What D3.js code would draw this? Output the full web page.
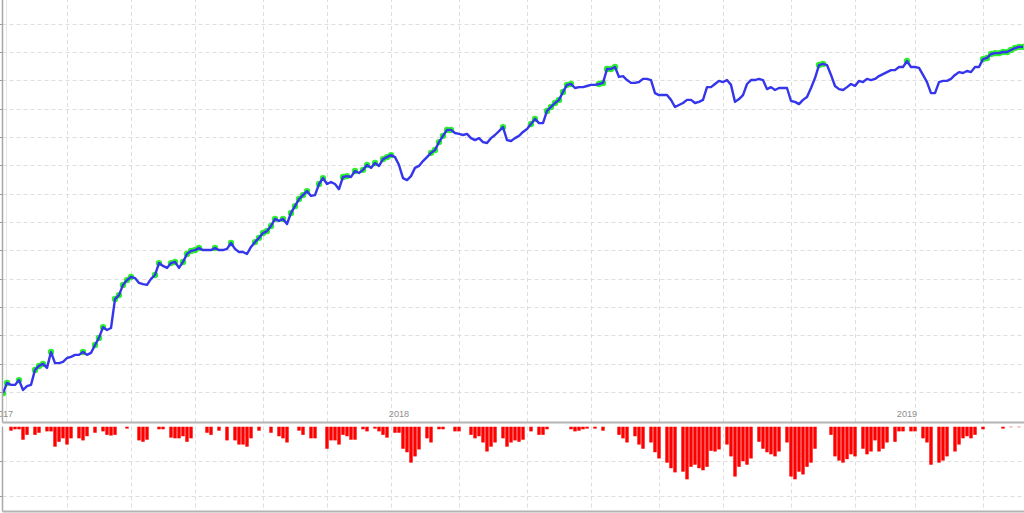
<!DOCTYPE html>
<html>
<head>
<meta charset="utf-8">
<script src="https://cdn.jsdelivr.net/npm/d3@7"></script>
<style>
  html, body { margin: 0; padding: 0; background: #fff; }
  svg { display: block; }
</style>
</head>
<body>
<svg id="chart" width="1024" height="513"></svg>
<script>
// ---- data ----
const equity = [
0.996,1.032,1.025,1.025,1.042,1.007,1.021,1.025,1.078,1.092,
1.099,1.085,1.141,1.102,1.102,1.106,1.120,1.124,1.131,1.131,
1.141,1.131,1.138,1.166,1.191,1.229,1.219,1.226,1.328,1.342,
1.378,1.395,1.406,1.402,1.385,1.381,1.378,1.399,1.413,1.455,
1.445,1.438,1.455,1.459,1.438,1.459,1.487,1.498,1.501,1.508,
1.501,1.501,1.501,1.508,1.501,1.501,1.505,1.526,1.505,1.494,
1.494,1.487,1.512,1.529,1.544,1.561,1.568,1.586,1.611,1.604,
1.611,1.593,1.632,1.656,1.681,1.695,1.709,1.692,1.695,1.734,
1.755,1.734,1.741,1.734,1.716,1.759,1.762,1.759,1.780,1.773,
1.784,1.801,1.791,1.808,1.798,1.822,1.829,1.836,1.829,1.801,
1.755,1.748,1.762,1.791,1.798,1.815,1.829,1.844,1.854,1.882,
1.904,1.925,1.925,1.914,1.911,1.907,1.911,1.896,1.889,1.896,
1.882,1.879,1.896,1.907,1.921,1.935,1.889,1.886,1.896,1.904,
1.918,1.928,1.946,1.964,1.949,1.949,1.992,2.006,2.020,2.031,
2.059,2.084,2.087,2.073,2.076,2.076,2.080,2.084,2.084,2.087,
2.091,2.140,2.140,2.147,2.112,2.115,2.101,2.091,2.091,2.094,
2.105,2.105,2.101,2.055,2.048,2.048,2.048,2.031,2.006,2.013,
2.020,2.031,2.031,2.020,2.024,2.031,2.076,2.076,2.087,2.098,
2.094,2.101,2.084,2.024,2.034,2.048,2.087,2.101,2.101,2.105,
2.101,2.069,2.076,2.066,2.073,2.073,2.073,2.027,2.024,2.016,
2.031,2.041,2.073,2.108,2.154,2.158,2.154,2.119,2.080,2.069,
2.066,2.076,2.087,2.080,2.098,2.094,2.105,2.101,2.105,2.115,
2.122,2.129,2.136,2.136,2.147,2.147,2.168,2.147,2.147,2.144,
2.119,2.094,2.055,2.055,2.094,2.098,2.098,2.105,2.119,2.129,
2.126,2.133,2.129,2.147,2.147,2.175,2.179,2.193,2.196,2.196,
2.200,2.200,2.207,2.214,2.218,2.218
];

const drawdown = [
0,0,-0.006,-0.004,-0.004,-0.019,-0.012,0,-0.012,-0.009,
0,-0.007,-0.007,-0.029,-0.022,-0.017,-0.026,-0.017,0,-0.017,
-0.020,-0.014,0,-0.009,0,-0.007,-0.012,-0.013,-0.012,0,
0,-0.003,0,0,-0.020,-0.022,-0.019,0,0,-0.004,
-0.004,0,-0.016,-0.017,-0.017,-0.014,-0.022,-0.017,0,0,
0,-0.009,-0.012,0,-0.006,0,-0.020,0,-0.020,-0.026,
-0.026,-0.029,-0.017,0,-0.006,0,0,-0.009,0,-0.014,
-0.017,-0.023,0,0,-0.006,-0.012,0,-0.017,-0.017,0,
0,-0.032,-0.020,-0.020,-0.026,-0.012,-0.014,-0.019,-0.019,0,
-0.004,-0.007,0,-0.003,-0.007,-0.012,-0.016,0,-0.009,-0.009,
-0.032,-0.037,-0.052,-0.043,-0.033,0,-0.017,-0.023,0,-0.004,
-0.004,0,0,-0.007,-0.007,0,0,-0.012,-0.017,-0.014,
-0.023,-0.036,-0.029,-0.023,0,-0.017,-0.029,-0.023,-0.020,-0.022,
-0.019,0,-0.007,0,-0.012,-0.012,-0.004,0,0,0,
0,0,-0.004,-0.007,-0.006,-0.004,-0.003,0,-0.003,0,
-0.006,0,0,0,-0.012,-0.017,-0.023,0,-0.014,-0.026,
-0.032,0,-0.023,-0.037,-0.046,0,-0.052,-0.060,-0.066,0,
-0.065,-0.076,-0.058,-0.055,-0.060,-0.063,-0.058,-0.035,-0.036,-0.033,
0,-0.026,-0.043,-0.072,-0.058,-0.050,-0.055,-0.046,0,-0.022,
-0.032,-0.037,-0.040,-0.043,-0.036,0,-0.023,-0.072,-0.076,-0.065,
-0.069,-0.058,-0.052,-0.032,0,0,0,-0.012,-0.043,-0.049,
-0.052,-0.047,-0.040,-0.043,0,-0.032,-0.040,-0.036,-0.020,-0.036,
-0.032,-0.023,0,-0.022,-0.007,-0.007,0,-0.007,-0.007,0,
-0.017,-0.023,-0.055,0,-0.052,-0.049,-0.043,0,-0.036,-0.026,
-0.017,-0.014,-0.017,-0.012,0,-0.004,0,0,0,0,
-0.003,0,-0.001,0,-0.001,0
];

const yearLabels = ["2017", "2018", "2019"];
const yearIndex  = [0, 99, 226];
const gridIndex  = [16, 32, 48, 65, 81, 97, 114, 131, 147, 164, 180, 197, 213, 228, 245];
const equityTicks = [1.0,1.1,1.2,1.3,1.4,1.5,1.6,1.7,1.8,1.9,2.0,2.1,2.2,2.3];
const drawdownTicks = [-0.05, -0.10];

// ---- layout ----
const left = 2.5, right = 1026;
const topPanel = { y0: -2, y1: 422.5 };
const botPanel = { y0: 426.5, y1: 511.5 };

const svg = d3.select("#chart");

const x = d3.scaleLinear().domain([0, equity.length - 1]).range([3, 1023]);
const yTop = d3.scaleLinear().domain([1.0, 2.3]).range([392, 23.67]);
const yBot = d3.scaleLinear().domain([-0.1223, 0]).range([botPanel.y1, botPanel.y0]);

const gridColor = "#dedede";
const dash = "4,3";

const defs = svg.append("defs");
defs.append("clipPath").attr("id", "clipTop").append("rect")
  .attr("x", left).attr("y", topPanel.y0).attr("width", right - left).attr("height", topPanel.y1 - topPanel.y0);
defs.append("clipPath").attr("id", "clipBot").append("rect")
  .attr("x", left).attr("y", botPanel.y0).attr("width", right - left).attr("height", botPanel.y1 - botPanel.y0);

// ---- top panel grid ----
const gTop = svg.append("g");
gTop.selectAll("line.hg").data(equityTicks).enter().append("line")
  .attr("x1", left).attr("x2", right)
  .attr("y1", d => Math.round(yTop(d)) + 0.5).attr("y2", d => Math.round(yTop(d)) + 0.5)
  .attr("stroke", gridColor).attr("stroke-dasharray", dash);
gTop.selectAll("line.vg").data(gridIndex).enter().append("line")
  .attr("x1", d => Math.round(x(d)) + 0.5).attr("x2", d => Math.round(x(d)) + 0.5)
  .attr("y1", topPanel.y0).attr("y2", topPanel.y1)
  .attr("stroke", gridColor).attr("stroke-dasharray", dash);
gTop.append("line").attr("x1", 6.5).attr("x2", 6.5).attr("y1", topPanel.y0).attr("y2", topPanel.y1)
  .attr("stroke", "#e6e6e6");
gTop.selectAll("line.tk").data(equityTicks).enter().append("line")
  .attr("x1", -3).attr("x2", left)
  .attr("y1", d => Math.round(yTop(d)) + 0.5).attr("y2", d => Math.round(yTop(d)) + 0.5)
  .attr("stroke", "#999");

// year labels
gTop.selectAll("text.yr").data(yearLabels).enter().append("text")
  .attr("x", (d, i) => x(yearIndex[i]))
  .attr("y", 416.5)
  .attr("text-anchor", "middle")
  .attr("font-family", "Liberation Sans, Arial, sans-serif")
  .attr("font-size", "9.2px")
  .attr("fill", "#8e8e8e")
  .text(d => d);

// ---- equity line + new-high markers ----
const plotTop = svg.append("g").attr("clip-path", "url(#clipTop)");
let runMax = -Infinity;
const highs = [];
equity.forEach((v, i) => { if (v >= runMax) { runMax = v; highs.push(i); } });

plotTop.selectAll("circle").data(highs).enter().append("circle")
  .attr("cx", i => x(i)).attr("cy", i => yTop(equity[i]))
  .attr("r", 3.2).attr("fill", "#2ef02e");

const line = d3.line().x((d, i) => x(i)).y(d => yTop(d));
plotTop.append("path").datum(equity)
  .attr("d", line).attr("fill", "none")
  .attr("stroke", "#3535ec").attr("stroke-width", 2.4)
  .attr("stroke-linejoin", "round");

svg.append("line").attr("x1", left).attr("x2", left).attr("y1", topPanel.y0).attr("y2", topPanel.y1)
  .attr("stroke", "#a8a8a8").attr("stroke-width", 1.5);
svg.append("line").attr("x1", left).attr("x2", right).attr("y1", topPanel.y1).attr("y2", topPanel.y1)
  .attr("stroke", "#b4b4b4").attr("stroke-width", 2);

// ---- bottom panel ----
const gBot = svg.append("g");
gBot.selectAll("line.hg").data(drawdownTicks).enter().append("line")
  .attr("x1", left).attr("x2", right)
  .attr("y1", d => Math.round(yBot(d)) + 0.5).attr("y2", d => Math.round(yBot(d)) + 0.5)
  .attr("stroke", gridColor).attr("stroke-dasharray", dash);
gBot.selectAll("line.vg").data(gridIndex).enter().append("line")
  .attr("x1", d => Math.round(x(d)) + 0.5).attr("x2", d => Math.round(x(d)) + 0.5)
  .attr("y1", botPanel.y0).attr("y2", botPanel.y1)
  .attr("stroke", gridColor).attr("stroke-dasharray", dash);
gBot.selectAll("line.tk").data(drawdownTicks).enter().append("line")
  .attr("x1", -3).attr("x2", left)
  .attr("y1", d => Math.round(yBot(d)) + 0.5).attr("y2", d => Math.round(yBot(d)) + 0.5)
  .attr("stroke", "#999");

const plotBot = svg.append("g").attr("clip-path", "url(#clipBot)");
plotBot.selectAll("rect").data(drawdown.map((v, i) => ({ v, i })).filter(d => d.v < 0))
  .enter().append("rect")
  .attr("x", d => x(d.i) - 1.7)
  .attr("width", 3.4)
  .attr("y", yBot(0))
  .attr("height", d => yBot(d.v) - yBot(0))
  .attr("fill", "#ff0000");

svg.append("line").attr("x1", left).attr("x2", left).attr("y1", botPanel.y0).attr("y2", botPanel.y1)
  .attr("stroke", "#a8a8a8").attr("stroke-width", 1.5);
svg.append("line").attr("x1", left).attr("x2", right).attr("y1", botPanel.y1).attr("y2", botPanel.y1)
  .attr("stroke", "#b4b4b4").attr("stroke-width", 2);
</script>
</body>
</html>
